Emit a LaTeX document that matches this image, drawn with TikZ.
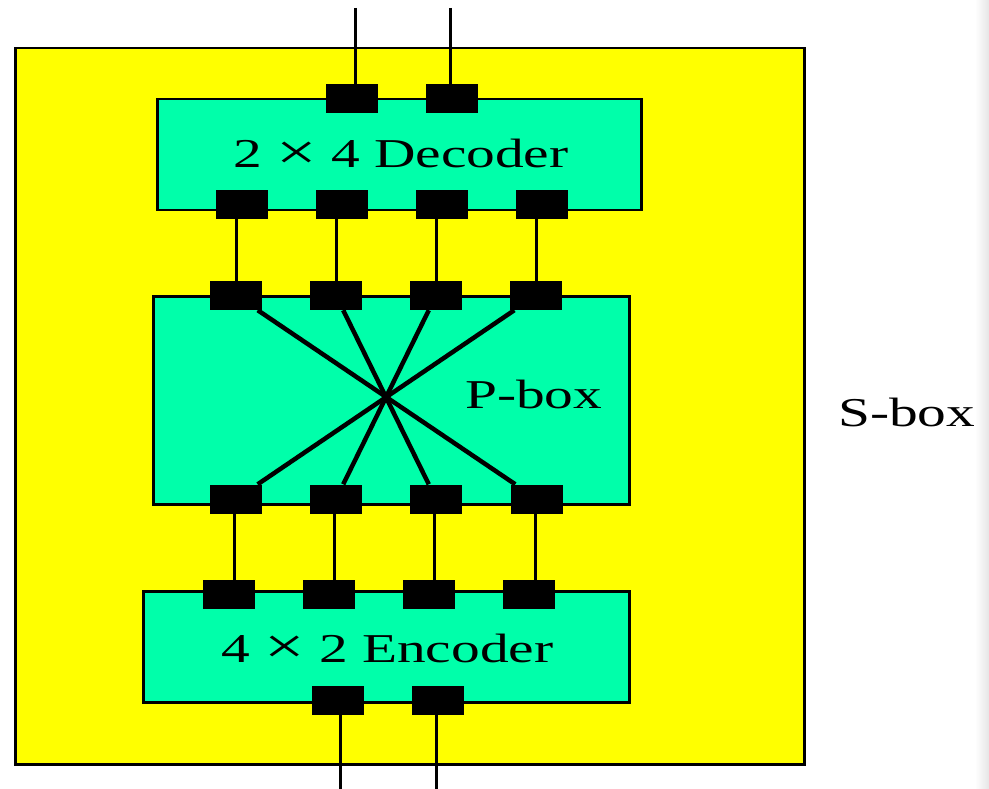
\documentclass[tikz,border=0pt]{standalone}
\usepackage{fontspec}
\newfontfamily\widefont[FakeStretch=1.4]{Liberation Serif}
\newcommand{\bigtimes}{\raisebox{-1.5pt}{\scalebox{1.25}{×}}}
\definecolor{sboxyellow}{RGB}{255,255,0}
\definecolor{mint}{RGB}{0,255,170}
\pgfdeclarelayer{bg}
\pgfdeclarelayer{mid}
\pgfsetlayers{bg,mid,main}
\begin{document}
\begin{tikzpicture}[x=1pt,y=-1pt,
  pin/.style={rectangle,fill=black,minimum width=52pt,minimum height=29pt,inner sep=0pt},
  blk/.style={rectangle,draw=black,line width=2.5pt,fill=mint,inner sep=0pt,anchor=north west},
  outerbox/.style={rectangle,draw=black,line width=2.5pt,fill=sboxyellow,inner sep=0pt,anchor=north west},
  wire/.style={line width=3pt},
  crosswire/.style={line width=4.5pt},
  lbl/.style={font=\widefont\fontsize{41}{48}\selectfont,inner sep=0pt,anchor=base west}]
\useasboundingbox (0,0) rectangle (989,789);
\shade[left color=white,right color=black!10] (975,0) rectangle (989,789);

\begin{pgfonlayer}{bg}
  \node[outerbox,minimum width=789pt,minimum height=716pt] (sbox) at (14,47) {};
  \node[blk,minimum width=484pt,minimum height=111pt] (dec) at (156,98) {};
  \node[blk,minimum width=476pt,minimum height=208pt] (pbox) at (152,295) {};
  \node[blk,minimum width=486pt,minimum height=111pt] (enc) at (142,590) {};
\end{pgfonlayer}

% labels
\node[lbl] (declbl) at (233,168) {2 \bigtimes\ 4 Decoder};
\node[lbl] (pboxlbl) at (465,408) {P-box};
\node[lbl] (enclbl) at (221,662) {4 \bigtimes\ 2 Encoder};
\node[lbl] (sboxlbl) at (838,426) {S-box};

% pins
\node[pin] (dt1) at (351.5,99) {};
\node[pin] (dt2) at (451.5,99) {};
\node[pin] (db1) at (241.5,204.5) {};
\node[pin] (db2) at (342,204.5) {};
\node[pin] (db3) at (442,204.5) {};
\node[pin] (db4) at (542,204.5) {};
\node[pin] (pt1) at (236,295.5) {};
\node[pin] (pt2) at (336,295.5) {};
\node[pin] (pt3) at (436,295.5) {};
\node[pin] (pt4) at (536,295.5) {};
\node[pin] (pb1) at (236,499) {};
\node[pin] (pb2) at (336,499) {};
\node[pin] (pb3) at (436,499) {};
\node[pin] (pb4) at (537,499) {};
\node[pin] (et1) at (228.5,594.5) {};
\node[pin] (et2) at (328.5,594.5) {};
\node[pin] (et3) at (428.5,594.5) {};
\node[pin] (et4) at (529,594.5) {};
\node[pin] (eb1) at (338,700) {};
\node[pin] (eb2) at (438,700) {};

\coordinate (in1) at (355,8);
\coordinate (in2) at (450,8);
\coordinate (out1) at (340,789);
\coordinate (out2) at (436,789);

\begin{pgfonlayer}{mid}
  \draw[wire] (in1) -- (in1 |- dt1);
  \draw[wire] (in2) -- (in2 |- dt2);
  \foreach \i in {1,2,3,4} {
    \draw[wire] (pt\i) -- (pt\i |- db\i);
    \draw[wire] ([xshift=-2pt]pb\i.center) -- ([xshift=-2pt]pb\i.center |- et\i);
  }
  \draw[wire] (out1) -- (out1 |- eb1);
  \draw[wire] (out2) -- (out2 |- eb2);
  \draw[crosswire] (pt1) -- (pb4);
  \draw[crosswire] (pt2) -- (pb3);
  \draw[crosswire] (pt3) -- (pb2);
  \draw[crosswire] (pt4) -- (pb1);
\end{pgfonlayer}
\end{tikzpicture}
\end{document}
